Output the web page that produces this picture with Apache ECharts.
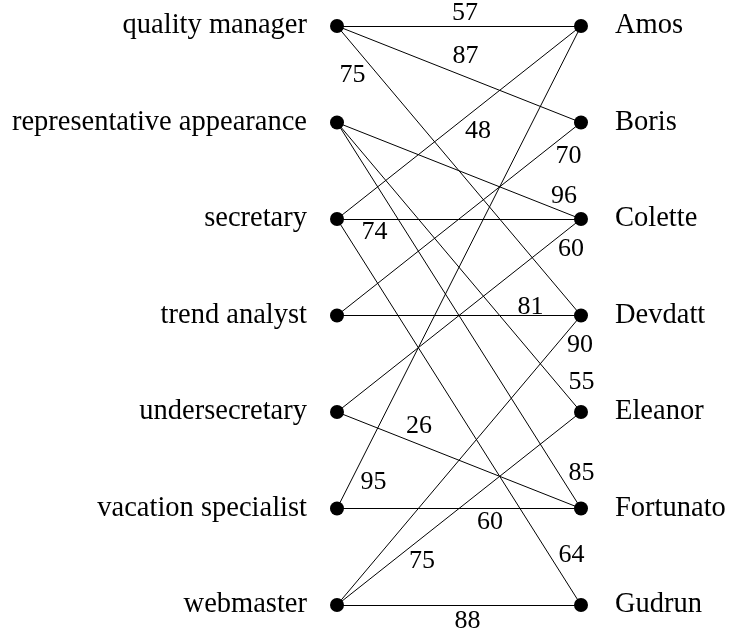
<!DOCTYPE html>
<html>
<head>
<meta charset="utf-8">
<script src="https://cdn.jsdelivr.net/npm/echarts@6/dist/echarts.min.js"></script>
<style>
html,body{margin:0;padding:0;background:#fff;}
#chart{width:733px;height:635px;}
</style>
</head>
<body>
<div id="chart"></div>
<script>
// ---- data ----
const leftNodes = ['quality manager', 'representative appearance', 'secretary', 'trend analyst', 'undersecretary', 'vacation specialist', 'webmaster'];
const rightNodes = ['Amos', 'Boris', 'Colette', 'Devdatt', 'Eleanor', 'Fortunato', 'Gudrun'];
const edgeSources = ['quality manager', 'quality manager', 'quality manager',
  'representative appearance', 'representative appearance', 'representative appearance',
  'secretary', 'secretary', 'secretary',
  'trend analyst', 'trend analyst',
  'undersecretary', 'undersecretary',
  'vacation specialist', 'vacation specialist',
  'webmaster', 'webmaster', 'webmaster'];
const edgeTargets = ['Amos', 'Boris', 'Devdatt',
  'Colette', 'Eleanor', 'Fortunato',
  'Amos', 'Colette', 'Gudrun',
  'Boris', 'Devdatt',
  'Colette', 'Fortunato',
  'Amos', 'Fortunato',
  'Devdatt', 'Eleanor', 'Gudrun'];
const edgeWeights = [57, 87, 75, 96, 55, 85, 48, 74, 64, 70, 81, 60, 26, 95, 60, 90, 75, 88];

// ---- label layout (fraction along edge, pixel offset) ----
const edgeLabelLayout = [
  [0.525, 0, -12.5], [0.527, 0, -20.3], [0.17, -26, 0],
  [0.93, 0, -15.8], [0.92, 20, -6.8], [0.92, 20, -4.1],
  [0.578, 0, 23.5], [0.154, 0, 13.5], [0.92, 10, -18.6],
  [0.949, 0, 23.6], [0.793, 0, -8.5],
  [0.959, 0, 22.6], [0.336, 0, -17.9],
  [0.05, 24.3, -1.9], [0.627, 0, 14],
  [0.92, 18.5, 6.3], [0.348, 0, 23.7], [0.535, 0, 16.5]
];

const FONT = '"Liberation Serif", "DejaVu Serif", serif';

const nodePos = {};
leftNodes.forEach((n, i) => { nodePos[n] = [0, i]; });
rightNodes.forEach((n, i) => { nodePos[n] = [1, i]; });

const nodes = [];
leftNodes.forEach((n, i) => nodes.push({
  name: n, value: [0, i],
  label: { show: true, position: 'left', distance: 23 }
}));
rightNodes.forEach((n, i) => nodes.push({
  name: n, value: [1, i],
  label: { show: true, position: 'right', distance: 27 }
}));

const links = edgeSources.map((s, i) => ({ source: s, target: edgeTargets[i] }));

const labelPoints = edgeSources.map((s, i) => {
  const a = nodePos[s], b = nodePos[edgeTargets[i]];
  const [t, dx, dy] = edgeLabelLayout[i];
  return {
    value: [a[0] + t * (b[0] - a[0]), a[1] + t * (b[1] - a[1])],
    label: { offset: [dx, dy] },
    weight: edgeWeights[i]
  };
});

const chart = echarts.init(document.getElementById('chart'), null, { renderer: 'canvas' });
chart.setOption({
  animation: false,
  backgroundColor: '#ffffff',
  grid: { left: 337, top: 26, width: 244, height: 579, outerBoundsMode: 'none' },
  xAxis: { type: 'value', min: 0, max: 1, show: false },
  yAxis: { type: 'value', min: 0, max: 6, inverse: true, show: false },
  series: [
    {
      type: 'graph',
      coordinateSystem: 'cartesian2d',
      layout: 'none',
      symbol: 'circle',
      symbolSize: 14,
      itemStyle: { color: '#000', opacity: 1 },
      label: { color: '#000', fontFamily: FONT, fontSize: 28.5 },
      lineStyle: { color: '#000', width: 1, opacity: 1, curveness: 0 },
      emphasis: { disabled: true },
      data: nodes,
      links: links,
      z: 2
    },
    {
      type: 'scatter',
      symbolSize: 0,
      silent: true,
      itemStyle: { opacity: 1 },
      label: {
        show: true, position: 'inside', color: '#000', opacity: 1,
        fontFamily: FONT, fontSize: 26,
        formatter: p => String(p.data.weight)
      },
      data: labelPoints,
      z: 3
    }
  ]
});
</script>
</body>
</html>
